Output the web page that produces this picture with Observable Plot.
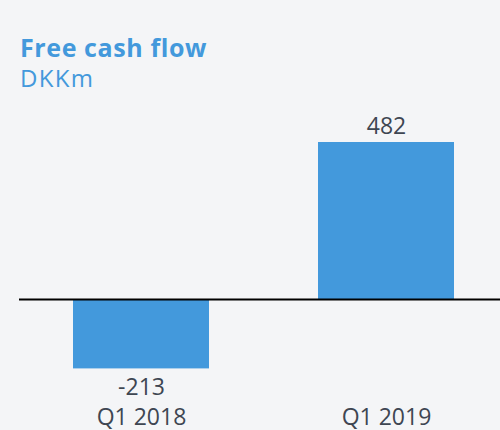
<!DOCTYPE html>
<html>
<head>
<meta charset="utf-8">
<script src="https://cdn.jsdelivr.net/npm/d3@7"></script>
<script src="https://cdn.jsdelivr.net/npm/@observablehq/plot@0.6"></script>
<style>
  html, body { margin: 0; padding: 0; background: #f4f5f7; }
  #wrap { width: 500px; height: 430px; overflow: hidden; background: #f4f5f7; }
  #head { position: relative; height: 100px; }
  #title { position: absolute; left: 20px; top: 35px; font: 700 25px/25px "Open Sans", sans-serif; letter-spacing: 0.6px; color: #4399dc; white-space: nowrap; }
  #sub { position: absolute; left: 20px; top: 66px; font: 400 24px/24px "Open Sans", sans-serif; letter-spacing: 1.3px; color: #4399dc; white-space: nowrap; }
  #chart svg { display: block; }
</style>
</head>
<body>
<div id="wrap">
  <div id="head">
    <div id="title">Free cash flow</div>
    <div id="sub">DKKm</div>
  </div>
  <div id="chart"></div>
</div>
<script>
const categories = ["Q1 2018", "Q1 2019"];
const values = [-213, 482];
const valueLabels = ["-213", "482"];

const data = categories.map((c, i) => ({category: c, value: values[i], label: valueLabels[i]}));
const pos = data.filter(d => d.value >= 0);
const neg = data.filter(d => d.value < 0);

const textColor = "#3e4652";
const barColor = "#4399dc";

const chart = Plot.plot({
  width: 500,
  height: 330,
  marginLeft: 19,
  marginRight: 0,
  marginTop: 0,
  marginBottom: 0,
  style: {background: "transparent", fontFamily: "'Open Sans', sans-serif"},
  x: {type: "band", domain: categories, range: [20, 507], paddingInner: 0.445, paddingOuter: 0.216, axis: null},
  y: {domain: [-213, 482], range: [268.4, 42], axis: null},
  marks: [
    Plot.barY(data, {x: "category", y: "value", fill: barColor}),
    Plot.ruleY([0], {stroke: "#000", strokeWidth: 2}),
    Plot.text(pos, {x: "category", y: "value", text: "label", lineAnchor: "bottom", dy: -9, fontSize: 23, fill: textColor}),
    Plot.text(neg, {x: "category", y: "value", text: "label", lineAnchor: "top", dy: 10, fontSize: 23, fill: textColor}),
    Plot.text(categories, {x: d => d, text: d => d, frameAnchor: "bottom", lineAnchor: "bottom", dy: -6, fontSize: 23, fill: textColor})
  ]
});
document.getElementById("chart").appendChild(chart);
</script>
</body>
</html>
